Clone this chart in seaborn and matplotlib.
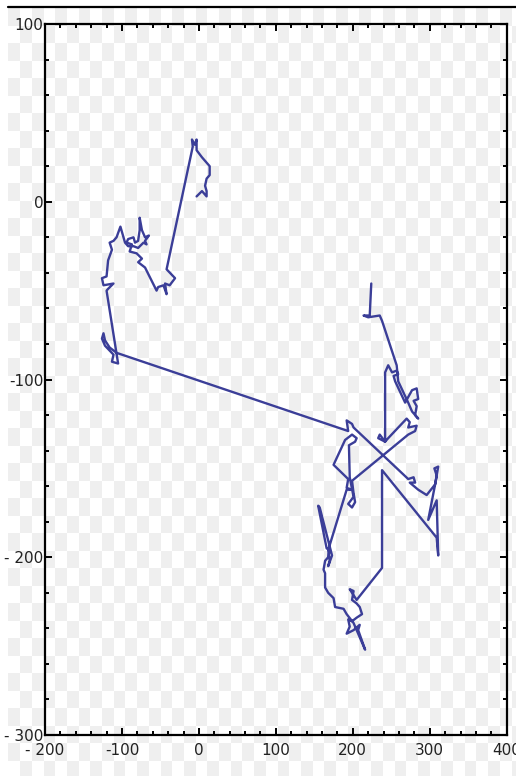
import matplotlib
matplotlib.use("Agg")
import matplotlib.pyplot as plt
import seaborn as sns
import numpy as np
import pandas as pd
from matplotlib.lines import Line2D
from matplotlib.ticker import MultipleLocator

# random walk in three pieces (path is continuous)
west_x = [-3, 4, 10, 10, 8, 10, 14, 14, 10, 4, -3, -3, -5, -9, -8,
          -42, -31, -38, -44, -42, -46, -53, -55,
          -70, -79, -74, -81, -90, -87, -94, -92, -85, -83, -79, -77, -77, -74,
          -70, -65, -70, -68, -72, -79, -85, -92, -96,
          -102, -107, -111, -116, -113, -118, -120, -126, -124, -111, -118, -120,
          -105, -113, -111, -122, -126, -124, -122, -116, -107]
west_y = [3, 6, 3, 6, 9, 13, 15, 20, 22, 25, 29, 35, 32, 35, 31,
          -38, -43, -47, -46, -52, -47, -48, -50,
          -37, -34, -32, -29, -28, -24, -23, -21, -20, -23, -22, -16, -9, -16,
          -20, -19, -22, -24, -23, -26, -25, -25, -23,
          -14, -20, -22, -23, -27, -33, -42, -43, -47, -46, -49, -50,
          -91, -90, -86, -81, -77, -74, -78, -82, -85]

south_x = [194, 192, 199, 201,
           272, 279, 281, 274, 285, 296, 307, 309, 306, 311, 307,
           298, 309, 311, 309, 238, 238, 205,
           196, 201, 199, 205, 209, 212, 205, 199, 194, 196, 192, 201, 209, 207, 216,
           209, 201, 192, 188, 177, 175, 168, 164, 164, 162, 164, 168, 170, 166,
           155, 157, 173, 168, 170, 168,
           192, 199, 192, 194, 175, 190, 199, 205, 203, 195, 196,
           201, 194, 199, 203, 201, 199]
south_y = [-129, -123, -125, -127,
           -156, -155, -158, -158, -162, -165, -159, -154, -150, -149, -159,
           -179, -168, -199, -189, -151, -206, -224,
           -218, -219, -224, -226, -228, -232, -234, -236, -235, -239, -243, -241, -238, -241, -252,
           -245, -237, -232, -229, -228, -223, -220, -217, -209, -207, -202, -200, -196, -195,
           -171, -172, -199, -205, -202, -196,
           -162, -162, -161, -156, -148, -134, -131, -133, -135, -137, -155,
           -166, -170, -172, -169, -164, -157]

east_x = [272, 281, 283, 272, 274, 270,
          246, 242, 233, 235, 242,
          242, 246, 251, 257, 259, 253, 255, 268,
          277, 283, 285, 279, 283, 281, 285, 277, 272, 259, 257,
          238, 235, 220, 214, 222, 224]
east_y = [-131, -129, -126, -127, -124, -122,
          -133, -135, -133, -131, -135,
          -96, -92, -96, -95, -97, -98, -101, -113,
          -106, -105, -111, -112, -115, -120, -122, -118, -113, -101, -92,
          -67, -64, -65, -64, -64, -46]

xticks = [-200, -100, 0, 100, 200, 300, 400]
xtick_labels = ["- 200", "-100", "0", "100", "200", "300", "400"]
yticks = [-300, -200, -100, 0, 100]
ytick_labels = ["- 300", "- 200", "-100", "0", "100"]

sns.set_style("ticks")
plt.rcParams["font.family"] = ["DejaVu Sans"]

W, H = 516, 776
fig = plt.figure(figsize=(W / 100, H / 100), dpi=100)
fig.patch.set_facecolor("white")

# transparency checkerboard behind everything
yy, xx = np.mgrid[0:H, 0:W]
cells = ((np.floor((xx - 8) / 11.7) + np.floor((yy - 8) / 17.5)) % 2) == 0
bg = np.where(cells, 0.94, 1.0)
bg[:8, :] = 1.0
bg[:, :8] = 1.0
fig.figimage(np.dstack([bg, bg, bg]), xo=0, yo=0, origin="upper", zorder=-5)
fig.add_artist(Line2D([8 / W, 1], [1 - 7 / H, 1 - 7 / H], color="black", lw=1.6,
                      transform=fig.transFigure))

ax = fig.add_axes([45 / W, 1 - 735 / H, 461.7 / W, 711 / H])
ax.set_facecolor("none")

df = pd.DataFrame({"x": west_x + south_x + east_x,
                   "y": west_y + south_y + east_y})
sns.lineplot(data=df, x="x", y="y", sort=False, estimator=None,
             color="#3b3e98", lw=1.7, ax=ax)

ax.set_xlim(-200, 400)
ax.set_ylim(-300, 100)
ax.set_xlabel("")
ax.set_ylabel("")
ax.set_xticks(xticks)
ax.set_xticklabels(xtick_labels)
ax.set_yticks(yticks)
ax.set_yticklabels(ytick_labels)
ax.xaxis.set_minor_locator(MultipleLocator(20))
ax.yaxis.set_minor_locator(MultipleLocator(20))
ax.tick_params(which="both", direction="in", top=True, right=True,
               width=1.4, color="black", labelsize=11, labelcolor="#222222")
ax.tick_params(which="major", length=5)
ax.tick_params(which="minor", length=3)
ax.tick_params(axis="x", pad=6)
ax.tick_params(axis="y", pad=1)
for s in ax.spines.values():
    s.set_visible(True)
    s.set_linewidth(1.6)
    s.set_color("black")

fig.savefig("out.png", dpi=100)
